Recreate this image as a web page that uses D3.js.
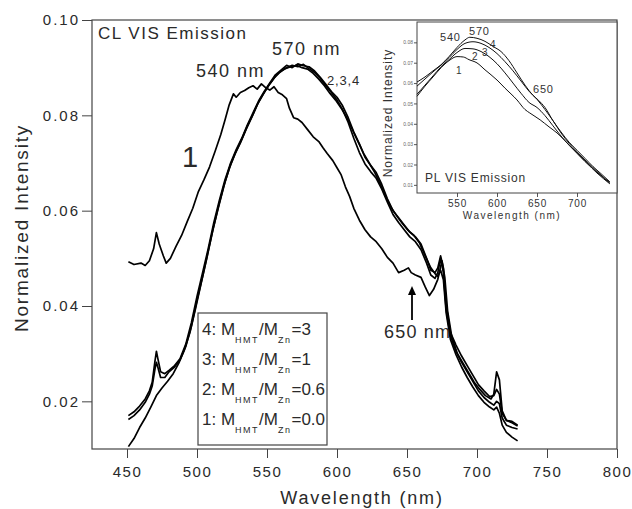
<!DOCTYPE html>
<html>
<head>
<meta charset="utf-8">
<script src="https://cdn.jsdelivr.net/npm/d3@7"></script>
<style>
  body { margin: 0; background: #fff; }
  svg { font-family: "Liberation Sans", Arial, sans-serif; }
</style>
</head>
<body>
<div id="chart"></div>
<script>
// CL emission spectra, [wavelength (nm), normalized intensity]
const cl1 = [[451,0.0493],[455,0.0487],[460,0.0490],[463,0.0485],[466,0.0495],[469,0.0520],[471,0.0554],[473,0.0530],[476,0.0505],[478,0.0490],[481,0.0500],[485,0.0525],[489,0.0548],[493,0.0577],[497,0.0605],[501,0.0640],[505,0.0665],[509,0.0692],[513,0.0725],[517,0.0760],[520,0.0790],[523,0.0822],[526,0.0845],[528,0.0838],[531,0.0848],[534,0.0852],[537,0.0858],[540,0.0862],[543,0.0855],[546,0.0866],[549,0.0858],[552,0.0853],[555,0.0860],[558,0.0848],[561,0.0843],[564,0.0835],[566,0.0815],[569,0.0795],[572,0.0792],[575,0.0785],[579,0.0770],[583,0.0755],[587,0.0745],[590,0.0732],[593,0.0720],[597,0.0705],[600,0.0690],[603,0.0675],[606,0.0650],[609,0.0630],[612,0.0605],[616,0.0580],[620,0.0560],[624,0.0545],[628,0.0535],[632,0.0520],[636,0.0502],[640,0.0490],[644,0.0470],[648,0.0475],[651,0.0480],[653,0.0470],[656,0.0465],[660,0.0460],[663,0.0440],[666,0.0422],[669,0.0435],[672,0.0456],[675,0.0495],[677,0.0460],[679,0.0390],[682,0.0335],[686,0.0300],[690,0.0280],[694,0.0260],[698,0.0240],[702,0.0225],[706,0.0212],[710,0.0205],[712,0.0215],[714,0.0262],[716,0.0245],[718,0.0180],[721,0.0160],[725,0.0155],[729,0.0148]];
const cl2 = [[451,0.0105],[455,0.0122],[459,0.0145],[463,0.0165],[467,0.0188],[471,0.0212],[475,0.0228],[479,0.0242],[483,0.0258],[487,0.0280],[491,0.0308],[495,0.0345],[499,0.0395],[503,0.0448],[507,0.0500],[511,0.0555],[515,0.0605],[519,0.0650],[523,0.0688],[527,0.0718],[531,0.0742],[535,0.0770],[539,0.0795],[543,0.0822],[547,0.0843],[551,0.0862],[555,0.0878],[559,0.0890],[563,0.0898],[567,0.0902],[571,0.0905],[575,0.0900],[579,0.0897],[583,0.0888],[587,0.0876],[591,0.0862],[595,0.0846],[599,0.0832],[603,0.0815],[607,0.0795],[611,0.0770],[615,0.0745],[619,0.0720],[623,0.0700],[627,0.0680],[631,0.0655],[635,0.0628],[639,0.0605],[643,0.0588],[647,0.0572],[651,0.0558],[655,0.0548],[659,0.0532],[663,0.0505],[667,0.0480],[670,0.0468],[672,0.0462],[674,0.0475],[676,0.0455],[678,0.0385],[681,0.0330],[685,0.0298],[689,0.0272],[693,0.0250],[697,0.0230],[701,0.0212],[705,0.0198],[709,0.0188],[712,0.0182],[714,0.0188],[716,0.0175],[718,0.0150],[721,0.0135],[725,0.0125],[729,0.0117]];
const cl3 = [[451,0.0162],[455,0.0170],[459,0.0182],[463,0.0198],[466,0.0215],[468,0.0232],[470,0.0268],[471,0.0282],[472,0.0272],[474,0.0250],[477,0.0250],[480,0.0262],[484,0.0272],[488,0.0288],[492,0.0315],[496,0.0358],[500,0.0412],[504,0.0462],[508,0.0515],[512,0.0568],[516,0.0615],[520,0.0660],[524,0.0697],[528,0.0725],[532,0.0750],[536,0.0778],[540,0.0802],[544,0.0828],[548,0.0848],[552,0.0866],[556,0.0882],[560,0.0893],[564,0.0900],[568,0.0905],[572,0.0902],[576,0.0907],[580,0.0898],[584,0.0890],[588,0.0878],[592,0.0862],[596,0.0848],[600,0.0832],[604,0.0812],[608,0.0785],[612,0.0752],[616,0.0722],[620,0.0698],[624,0.0682],[628,0.0668],[632,0.0645],[636,0.0618],[640,0.0592],[644,0.0575],[648,0.0560],[652,0.0545],[656,0.0535],[660,0.0518],[664,0.0490],[667,0.0465],[670,0.0458],[672,0.0470],[674,0.0500],[676,0.0470],[678,0.0392],[681,0.0338],[685,0.0305],[689,0.0282],[693,0.0262],[697,0.0242],[701,0.0222],[705,0.0208],[709,0.0198],[712,0.0192],[714,0.0200],[716,0.0195],[718,0.0165],[721,0.0150],[725,0.0145],[729,0.0142]];
const cl4 = [[451,0.0170],[455,0.0178],[459,0.0190],[463,0.0205],[466,0.0222],[468,0.0240],[470,0.0285],[471,0.0305],[472,0.0290],[474,0.0262],[477,0.0258],[480,0.0265],[484,0.0275],[488,0.0290],[492,0.0320],[496,0.0365],[500,0.0420],[504,0.0470],[508,0.0520],[512,0.0575],[516,0.0622],[520,0.0665],[524,0.0700],[528,0.0728],[532,0.0752],[536,0.0780],[540,0.0805],[544,0.0830],[548,0.0850],[552,0.0868],[556,0.0885],[560,0.0895],[564,0.0905],[568,0.0900],[572,0.0908],[576,0.0904],[580,0.0902],[584,0.0893],[588,0.0880],[592,0.0865],[596,0.0850],[600,0.0838],[604,0.0820],[608,0.0795],[612,0.0765],[616,0.0740],[620,0.0712],[624,0.0695],[628,0.0680],[632,0.0655],[636,0.0625],[640,0.0600],[644,0.0585],[648,0.0570],[652,0.0555],[656,0.0545],[660,0.0530],[664,0.0500],[667,0.0475],[670,0.0470],[672,0.0480],[674,0.0505],[676,0.0480],[678,0.0400],[681,0.0345],[685,0.0318],[689,0.0295],[693,0.0275],[697,0.0255],[701,0.0235],[705,0.0222],[709,0.0210],[712,0.0212],[714,0.0225],[716,0.0215],[718,0.0175],[721,0.0160],[725,0.0158],[729,0.0150]];

// PL emission spectra (inset)
const pl1 = [[500,0.0535],[510,0.0585],[520,0.0630],[530,0.0675],[540,0.0710],[550,0.0730],[558,0.0728],[565,0.0715],[575,0.0699],[585,0.0665],[600,0.0615],[610,0.0575],[625,0.0517],[635,0.0470],[641,0.0453],[654,0.0419],[665,0.0385],[675,0.0355],[688,0.0305],[700,0.0256],[712,0.0208],[725,0.0158],[741,0.0105]];
const pl2 = [[500,0.0545],[510,0.0590],[520,0.0635],[530,0.0680],[540,0.0715],[550,0.0750],[560,0.0770],[570,0.0768],[580,0.0755],[590,0.0730],[600,0.0695],[610,0.0650],[620,0.0600],[630,0.0550],[640,0.0505],[650,0.0480],[660,0.0440],[670,0.0390],[680,0.0340],[690,0.0295],[700,0.0255],[710,0.0215],[720,0.0180],[730,0.0145],[741,0.0108]];
const pl3 = [[500,0.0585],[510,0.0620],[520,0.0655],[530,0.0688],[540,0.0725],[550,0.0765],[560,0.0795],[570,0.0803],[580,0.0795],[590,0.0775],[600,0.0745],[610,0.0705],[620,0.0660],[630,0.0610],[640,0.0560],[650,0.0520],[660,0.0470],[670,0.0415],[680,0.0355],[690,0.0305],[700,0.0262],[710,0.0222],[720,0.0185],[730,0.0148],[741,0.0112]];
const pl4 = [[500,0.0605],[510,0.0630],[520,0.0660],[530,0.0690],[540,0.0730],[550,0.0775],[560,0.0812],[566,0.0825],[575,0.0820],[585,0.0805],[595,0.0780],[605,0.0755],[615,0.0710],[625,0.0650],[635,0.0590],[645,0.0540],[652,0.0515],[660,0.0480],[670,0.0415],[680,0.0360],[690,0.0310],[700,0.0270],[710,0.0230],[720,0.0190],[730,0.0155],[741,0.0115]];

// ticks and labels
const xMajor = [450, 500, 550, 600, 650, 700, 750, 800];
const xMinor = [425, 475, 525, 575, 625, 675, 725, 775];
const yMajor = [0.02, 0.04, 0.06, 0.08, 0.10];
const yMinor = [0.01, 0.03, 0.05, 0.07, 0.09];
const insetXMajor = [550, 600, 650, 700];
const insetXMinor = [525, 575, 625, 675, 725];
const insetYTicks = [0.01, 0.02, 0.03, 0.04, 0.05, 0.06, 0.07, 0.08];
const legendRows = [["4", "3"], ["3", "1"], ["2", "0.6"], ["1", "0.0"]];

const width = 632;
const height = 509;
const ink = "#2a2a2a";

const svg = d3.select("#chart")
  .append("svg")
  .attr("width", width)
  .attr("height", height);

// main scales
const x = d3.scaleLinear().domain([425, 800]).range([92, 617]);
const y = d3.scaleLinear().domain([0.01, 0.10]).range([449, 20]);

const line = d3.line()
  .x(d => x(d[0]))
  .y(d => y(d[1]));

// axes (ticks outward)
const gx = svg.append("g").attr("transform", `translate(0,${y(0.01)})`);
gx.call(d3.axisBottom(x).tickValues(xMinor).tickSize(6).tickFormat(""));
gx.call(d3.axisBottom(x).tickValues(xMajor).tickSize(9).tickSizeOuter(0).tickFormat(d3.format("d")));
gx.selectAll("text")
  .attr("dy", "1.05em")
  .style("font-size", "15px")
  .style("letter-spacing", "1.5px")
  .attr("fill", ink);

const gy = svg.append("g").attr("transform", `translate(${x(425)},0)`);
gy.call(d3.axisLeft(y).tickValues(yMinor).tickSize(5).tickFormat(""));
gy.call(d3.axisLeft(y).tickValues(yMajor).tickSize(10).tickSizeOuter(0).tickFormat(d3.format(".2f")));
gy.selectAll("text")
  .attr("x", -12)
  .style("font-size", "15px")
  .style("letter-spacing", "2px")
  .attr("fill", ink);

svg.selectAll(".domain").remove();
svg.selectAll(".tick line").attr("stroke", "#444");

// frame
svg.append("rect")
  .attr("x", x(425)).attr("y", y(0.10))
  .attr("width", x(800) - x(425)).attr("height", y(0.01) - y(0.10))
  .attr("fill", "none").attr("stroke", "#444").attr("stroke-width", 1.2);

// axis titles
svg.append("text")
  .attr("transform", "translate(28,228) rotate(-90)")
  .attr("text-anchor", "middle")
  .style("font-size", "19px")
  .style("letter-spacing", "1.8px")
  .attr("fill", ink)
  .text("Normalized Intensity");

svg.append("text")
  .attr("x", 362).attr("y", 504)
  .attr("text-anchor", "middle")
  .style("font-size", "18px")
  .style("letter-spacing", "1.8px")
  .attr("fill", ink)
  .text("Wavelength (nm)");

// curves
svg.append("g")
  .selectAll("path")
  .data([cl1, cl2, cl3, cl4])
  .join("path")
  .attr("d", line)
  .attr("fill", "none")
  .attr("stroke", "#000")
  .attr("stroke-width", 1.7)
  .attr("stroke-linejoin", "round");

// annotations
const note = (tx, ty, txt, size, spacing) => svg.append("text")
  .attr("x", tx).attr("y", ty)
  .style("font-size", size + "px")
  .style("letter-spacing", spacing + "px")
  .attr("fill", ink)
  .text(txt);

note(98, 39, "CL VIS Emission", 17, 1.5);
note(272, 55, "570 nm", 18, 1.5);
note(196, 77, "540 nm", 18, 1.5);
note(327, 85, "2,3,4", 13, 0.8);
note(182, 167, "1", 29, 0);
note(384, 338, "650 nm", 18, 1.2);

// arrow to 650 nm
svg.append("line")
  .attr("x1", 412).attr("x2", 412)
  .attr("y1", 320).attr("y2", 294)
  .attr("stroke", "#000").attr("stroke-width", 1.8);
svg.append("path")
  .attr("d", "M408,295 L412,286 L416,295 Z")
  .attr("fill", "#000");

// legend
const lg = svg.append("g");
lg.append("rect")
  .attr("x", 198).attr("y", 313)
  .attr("width", 129).attr("height", 132)
  .attr("fill", "#fff").attr("stroke", "#444").attr("stroke-width", 1.2);

legendRows.forEach((r, i) => {
  const t = lg.append("text")
    .attr("x", 202).attr("y", 335 + i * 30)
    .style("font-size", "17px")
    .attr("fill", ink);
  t.append("tspan").text(r[0] + ": M");
  t.append("tspan").attr("dy", 8).style("font-size", "9px").style("letter-spacing", "1.5px").text("HMT");
  t.append("tspan").attr("dy", -8).text("/M");
  t.append("tspan").attr("dy", 8).style("font-size", "9px").style("letter-spacing", "1.5px").text("Zn");
  t.append("tspan").attr("dy", -8).text("=" + r[1]);
});

// inset
const xi = d3.scaleLinear().domain([500, 750]).range([417, 617]);
const yi = d3.scaleLinear().domain([0.006, 0.09]).range([193, 22]);

const inset = svg.append("g");
inset.append("rect")
  .attr("x", 417).attr("y", 22)
  .attr("width", 200).attr("height", 171)
  .attr("fill", "#fff");

const gxi = inset.append("g").attr("transform", "translate(0,193)");
gxi.call(d3.axisBottom(xi).tickValues(insetXMinor).tickSize(2).tickFormat(""));
gxi.call(d3.axisBottom(xi).tickValues(insetXMajor).tickSize(4).tickSizeOuter(0).tickFormat(d3.format("d")));
gxi.selectAll("text")
  .attr("y", 7)
  .attr("dy", "0.71em")
  .style("font-size", "10px")
  .style("letter-spacing", "0.8px")
  .attr("fill", "#333");

const gyi = inset.append("g").attr("transform", "translate(417,0)");
gyi.call(d3.axisLeft(yi).tickValues(insetYTicks).tickSize(3).tickSizeOuter(0).tickFormat(d3.format(".2f")));
gyi.selectAll("text")
  .attr("x", -4)
  .style("font-size", "5px")
  .attr("fill", "#666");

inset.selectAll(".domain").remove();
inset.selectAll(".tick line").attr("stroke", "#555");

inset.append("rect")
  .attr("x", 417).attr("y", 22)
  .attr("width", 200).attr("height", 171)
  .attr("fill", "none").attr("stroke", "#444").attr("stroke-width", 1);

const lineInset = d3.line()
  .x(d => xi(d[0]))
  .y(d => yi(d[1]))
  .curve(d3.curveMonotoneX);

inset.append("g")
  .selectAll("path")
  .data([pl1, pl2, pl3, pl4])
  .join("path")
  .attr("d", lineInset)
  .attr("fill", "none")
  .attr("stroke", "#111")
  .attr("stroke-width", 1);

inset.append("text")
  .attr("transform", "translate(392,113) rotate(-90)")
  .attr("text-anchor", "middle")
  .style("font-size", "12px")
  .style("letter-spacing", "1px")
  .attr("fill", "#333")
  .text("Normalized Intensity");

inset.append("text")
  .attr("x", 512).attr("y", 219)
  .attr("text-anchor", "middle")
  .style("font-size", "10px")
  .style("letter-spacing", "1.5px")
  .attr("fill", "#333")
  .text("Wavelength (nm)");

const inote = (tx, ty, txt, size) => inset.append("text")
  .attr("x", tx).attr("y", ty)
  .style("font-size", size + "px")
  .style("letter-spacing", "0.8px")
  .attr("fill", "#333")
  .text(txt);

inote(425, 182, "PL VIS Emission", 12);
inote(440, 41, "540", 11);
inote(469, 35, "570", 11);
inote(490, 48, "4", 10);
inote(482, 56, "3", 10);
inote(472, 60, "2", 10);
inote(456, 74, "1", 10);
inote(533, 93, "650", 11);
</script>
</body>
</html>
